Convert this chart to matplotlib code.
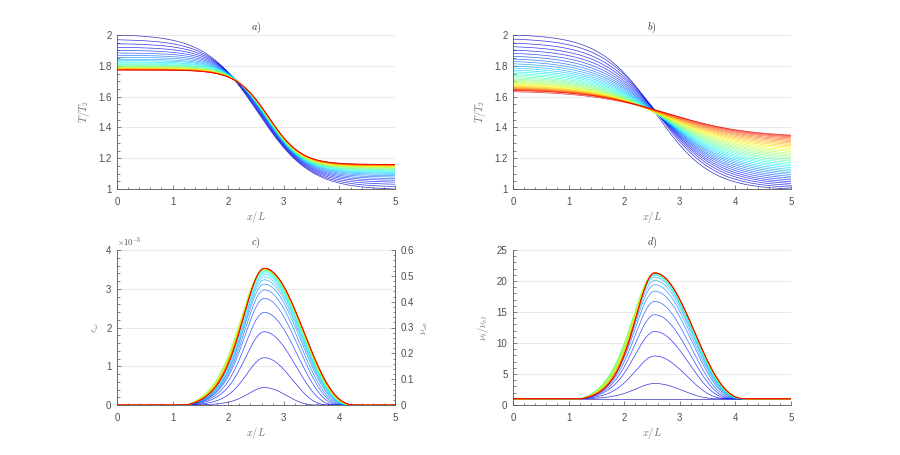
import numpy as np
import matplotlib
matplotlib.use('Agg')
import matplotlib.pyplot as plt
from matplotlib.ticker import MultipleLocator, FormatStrFormatter

plt.rcParams['font.family'] = ['Liberation Sans', 'DejaVu Sans']
plt.rcParams['mathtext.fontset'] = 'cm'

# a) T/T2 read at x/L = 0 and x/L = 5, one entry per curve (blue -> red)
a_T0 = [2.000, 1.969, 1.943, 1.920, 1.900, 1.883, 1.868, 1.855, 1.843, 1.834,
        1.825, 1.818, 1.811, 1.806, 1.801, 1.797, 1.793, 1.790, 1.788, 1.785,
        1.783, 1.781, 1.780, 1.779, 1.777, 1.776, 1.775, 1.774, 1.773, 1.772]
a_T5 = [1.000, 1.016, 1.031, 1.045, 1.057, 1.068, 1.078, 1.087, 1.095, 1.102,
        1.108, 1.114, 1.119, 1.124, 1.128, 1.132, 1.136, 1.139, 1.142, 1.144,
        1.147, 1.149, 1.151, 1.152, 1.154, 1.155, 1.157, 1.158, 1.159, 1.160]
a_front = [(2.53, 0.95), (2.73, 0.58)]   # centre, width of first / last front

# b)
b_T0 = [2.000, 1.973, 1.947, 1.924, 1.902, 1.881, 1.862, 1.844, 1.828, 1.813,
        1.798, 1.785, 1.772, 1.761, 1.750, 1.740, 1.731, 1.722, 1.714, 1.707,
        1.700, 1.693, 1.687, 1.681, 1.676, 1.671, 1.667, 1.662, 1.658, 1.655,
        1.651, 1.648, 1.645, 1.642, 1.640, 1.632]
b_T5 = [1.000, 1.012, 1.024, 1.036, 1.047, 1.059, 1.071, 1.082, 1.094, 1.105,
        1.116, 1.127, 1.139, 1.150, 1.160, 1.171, 1.182, 1.192, 1.203, 1.213,
        1.223, 1.233, 1.243, 1.253, 1.263, 1.272, 1.281, 1.290, 1.299, 1.308,
        1.316, 1.324, 1.332, 1.339, 1.345, 1.350]
b_front = [(2.55, 1.00), (2.80, 1.45)]

# c) eps_omega peaks (x1e-3), left flank width, right half width
c_peak = [0.0, 0.45, 1.22, 1.89, 2.39, 2.75, 2.97, 3.12, 3.23, 3.31,
          3.37, 3.41, 3.44, 3.46, 3.475, 3.485, 3.495, 3.50, 3.505, 3.51,
          3.515, 3.515, 3.52, 3.52, 3.52, 3.525, 3.525, 3.525, 3.53, 3.53]
c_sl = [0.50, 0.42, 0.47, 0.50, 0.51, 0.52, 0.52, 0.53, 0.53, 0.54,
        0.55, 0.57, 0.59, 0.60, 0.61, 0.62, 0.615, 0.61, 0.60, 0.595,
        0.59, 0.58, 0.575, 0.57, 0.565, 0.56, 0.555, 0.55, 0.55, 0.55]
c_hr = [1.0, 0.94, 1.17, 1.31, 1.39, 1.44, 1.48, 1.52, 1.54, 1.56,
        1.57, 1.58, 1.59, 1.60, 1.60, 1.61, 1.61, 1.62, 1.62, 1.62,
        1.63, 1.63, 1.63, 1.64, 1.64, 1.64, 1.65, 1.65, 1.65, 1.65]
c_centre, c_start = 2.65, 1.25

# d) nu_t / nu_el peaks, left flank width, right half width
d_peak = [1.0, 3.47, 7.9, 11.85, 14.56, 16.7, 18.35, 19.4, 20.1, 20.6,
          20.9, 21.05, 21.15, 21.2, 21.22, 21.24, 21.26, 21.27, 21.28, 21.28,
          21.29, 21.29, 21.3, 21.3, 21.3, 21.3, 21.3, 21.3, 21.3, 21.3]
d_sl = [0.50, 0.50, 0.52, 0.53, 0.53, 0.53, 0.53, 0.53, 0.54, 0.55,
        0.56, 0.57, 0.58, 0.59, 0.59, 0.585, 0.58, 0.57, 0.56, 0.55,
        0.54, 0.53, 0.52, 0.515, 0.51, 0.505, 0.50, 0.50, 0.50, 0.50]
d_hr = [1.0, 1.17, 1.33, 1.41, 1.46, 1.50, 1.54, 1.56, 1.58, 1.59,
        1.60, 1.61, 1.62, 1.62, 1.63, 1.63, 1.64, 1.64, 1.64, 1.65,
        1.65, 1.65, 1.65, 1.65, 1.65, 1.65, 1.65, 1.65, 1.65, 1.65]
d_centre, d_start = 2.55, 1.22

x = np.linspace(0, 5, 801)
LW = 0.5
ALPHA = 0.8
GREY = '#555555'
TICKC = '#4d4d4d'
LABC = '#707070'


def colour(i, n):
    return plt.cm.jet(0.04 + 0.88 * i / (n - 1))


def front(xx, T0, T5, xc, w):
    s = lambda z: 0.5 * (1 - np.tanh((z - xc) / w))
    amp = (T0 - T5) / (s(0.0) - s(5.0))
    lo = T5 - amp * s(5.0)
    return lo + amp * s(xx)


def bump(xx, peak, base, xc, x0, sl, hr):
    d = xx - xc
    f = np.zeros_like(xx)
    left = (d < 0) & (xx > x0)
    right = (d >= 0) & (d < hr)
    edge = 1.0 / np.cosh((x0 - xc) / sl) ** 2
    f[left] = (1.0 / np.cosh(d[left] / sl) ** 2 - edge) / (1 - edge)
    f[right] = np.cos(np.pi * d[right] / (2 * hr)) ** 2.5
    return base + (peak - base) * f


def style(ax, ylim, major, minor, title):
    ax.set_xlim(0, 5)
    ax.set_ylim(*ylim)
    ax.xaxis.set_major_locator(MultipleLocator(1))
    ax.xaxis.set_minor_locator(MultipleLocator(0.2))
    ax.yaxis.set_major_locator(MultipleLocator(major))
    ax.yaxis.set_minor_locator(MultipleLocator(minor))
    ax.xaxis.set_major_formatter(FormatStrFormatter('%g'))
    ax.yaxis.set_major_formatter(FormatStrFormatter('%g'))
    ax.tick_params(which='both', direction='in', color=GREY, labelcolor=TICKC,
                   labelsize=7, width=0.5)
    ax.tick_params(which='major', length=3)
    ax.tick_params(which='minor', length=1.8)
    ax.tick_params(axis='x', pad=6)
    ax.tick_params(axis='y', pad=4)
    ax.grid(axis='y', which='major', color='#e6e6e6', lw=0.6)
    ax.set_axisbelow(True)
    for s in ['top', 'right']:
        ax.spines[s].set_visible(False)
    for s in ['left', 'bottom']:
        ax.spines[s].set_color(GREY)
        ax.spines[s].set_linewidth(0.6)
    ax.set_xlabel('$x/L$', fontsize=7.5, color=LABC, labelpad=1)
    ax.set_title(title, fontsize=7.5, color='#333333', pad=3)


fig = plt.figure(figsize=(9, 4.55), dpi=100)
W = 278 / 900
ax_a = fig.add_axes([117 / 900, 1 - 189 / 455, W, 154 / 455])
ax_b = fig.add_axes([513 / 900, 1 - 189 / 455, W, 154 / 455])
ax_c = fig.add_axes([117 / 900, 1 - 405 / 455, W, 155 / 455])
ax_d = fig.add_axes([513 / 900, 1 - 405 / 455, W, 155 / 455])

for ax, T0s, T5s, fr, k in [(ax_a, a_T0, a_T5, a_front, 1.0),
                            (ax_b, b_T0, b_T5, b_front, 0.7)]:
    n = len(T0s)
    for i in range(n):
        g = (T0s[0] - T0s[i]) / (T0s[0] - T0s[-1])
        xc = fr[0][0] + g ** k * (fr[1][0] - fr[0][0])
        w = fr[0][1] + g * (fr[1][1] - fr[0][1])
        ax.plot(x, front(x, T0s[i], T5s[i], xc, w), color=colour(i, n),
                lw=LW, alpha=ALPHA)

n = len(c_peak)
for i in range(n):
    ax_c.plot(x, bump(x, c_peak[i] * 1e-3, 0.0, c_centre, c_start, c_sl[i], c_hr[i]),
              color=colour(i, n), lw=LW, alpha=ALPHA)
n = len(d_peak)
for i in range(n):
    ax_d.plot(x, bump(x, d_peak[i], 1.0, d_centre, d_start, d_sl[i], d_hr[i]),
              color=colour(i, n), lw=LW, alpha=ALPHA)

style(ax_a, (1, 2), 0.2, 0.05, '$a)$')
style(ax_b, (1, 2), 0.2, 0.05, '$b)$')
style(ax_c, (0, 4e-3), 1e-3, 0.2e-3, '$c)$')
style(ax_d, (0, 25), 5, 1, '$d)$')

ax_a.set_ylabel('$T/T_2$', fontsize=7.5, color=LABC, labelpad=4)
ax_b.set_ylabel('$T/T_2$', fontsize=7.5, color=LABC, labelpad=4)
ax_c.set_ylabel(r'$\epsilon_\omega$', fontsize=7.5, color=LABC, labelpad=4)
ax_d.set_ylabel(r'$\nu_t/\nu_{el}$', fontsize=7.5, color=LABC, labelpad=4)

# c) left axis shown in units of 1e-3 with a MATLAB-like exponent label
ax_c.yaxis.set_major_formatter(plt.FuncFormatter(lambda v, p: '%g' % round(v * 1e3, 6)))
ax_c.text(0.0, 1.01, r'$\times10^{-3}$', transform=ax_c.transAxes, fontsize=6,
          color=TICKC, ha='left', va='bottom')

ax_r = ax_c.twinx()
ax_r.set_ylim(0, 0.6)
ax_r.yaxis.set_major_locator(MultipleLocator(0.1))
ax_r.yaxis.set_minor_locator(MultipleLocator(0.02))
ax_r.yaxis.set_major_formatter(FormatStrFormatter('%g'))
ax_r.tick_params(which='both', direction='in', color=GREY, labelcolor=TICKC,
                 labelsize=7, width=0.5, pad=4)
ax_r.tick_params(which='major', length=3)
ax_r.tick_params(which='minor', length=1.8)
for s in ['top', 'left', 'bottom']:
    ax_r.spines[s].set_visible(False)
ax_r.spines['right'].set_color(GREY)
ax_r.spines['right'].set_linewidth(0.6)
ax_r.set_ylabel(r'$\nu_{\omega e}$', fontsize=7.5, color=LABC, labelpad=4)

fig.savefig('out.png', dpi=100)
